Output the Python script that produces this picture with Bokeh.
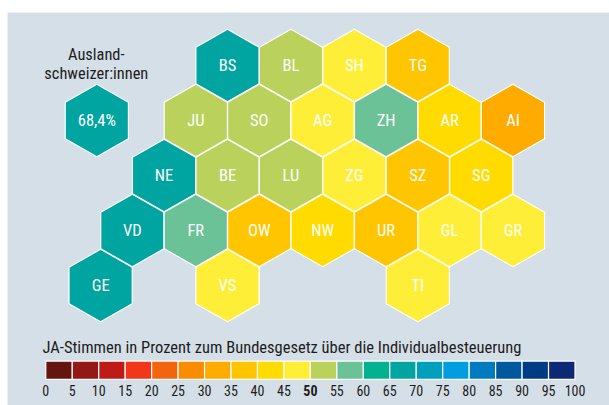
from bokeh.plotting import figure
from bokeh.models import ColumnDataSource, LinearColorMapper
from bokeh.core.properties import value
from bokeh.embed import file_html
from bokeh.resources import INLINE

# --- data -------------------------------------------------------------
cantons = ["BS","BL","SH","TG",
           "JU","SO","AG","ZH","AR","AI",
           "NE","BE","LU","ZG","SZ","SG",
           "VD","FR","OW","NW","UR","GL","GR",
           "GE","VS","TI"]
grid_q = [0,2,4,6,
          -1,1,3,5,7,9,
          -2,0,2,4,6,8,
          -3,-1,1,3,5,7,9,
          -4,0,6]
grid_r = [0,0,0,0,
          1,1,1,1,1,1,
          2,2,2,2,2,2,
          3,3,3,3,3,3,3,
          4,4,4]
ja_percent = [66,53,47,39,
              53,52,47,57,43,33,
              66,53,51,47,38,42,
              67,56,38,42,37,46,47,
              67,46,47]
abroad_label = "68,4%"
abroad_value = 68.4
abroad_q = -4.12
abroad_r = 1
abroad_title = ["Ausland-", "schweizer:innen"]

scale_ticks = [0,5,10,15,20,25,30,35,40,45,50,55,60,65,70,75,80,85,90,95,100]
palette = ["#64150f","#931a14","#bf1b16","#f1361a","#f3640f","#fa8c00","#ffab00",
           "#ffc600","#ffdb00","#ffee38","#bad25c","#6bc296","#00b290","#00a4a0",
           "#00a0bd","#009ee0","#007bc0","#00599c","#003c83","#0c2876"]
legend_title = "JA-Stimmen in Prozent zum Bundesgesetz über die Individualbesteuerung"

# --- geometry (page pixels) -------------------------------------------
FONT = "Roboto Condensed"
INK = "#1d1d1b"
X0, Y0 = 227.0, 65.0     # centre of hex at q=0, r=0
DX, DY = 31.72, 55.0     # half column step, row step
RX, RY, RS = 31.6, 36.3, 18.2
LX0, LX1 = 45.3, 574.5   # legend 0..100
LY0, LY1 = 360.6, 378.9

def px(q): return X0 + q * DX
def py(r): return Y0 + r * DY
def hexagon(q, r):
    x, y = px(q), py(r)
    return ([x, x+RX, x+RX, x, x-RX, x-RX], [y-RY, y-RS, y+RS, y+RY, y+RS, y-RS])
def lx(v): return LX0 + (LX1 - LX0) * v / 100

W, H = 609, 405
p = figure(width=W, height=H, x_range=(0, W), y_range=(H, 0),
           output_backend="svg", toolbar_location=None, min_border=0,
           background_fill_color="white", border_fill_color="white", outline_line_color=None)
p.axis.visible = False
p.grid.visible = False

# panel
p.quad(left=[7], right=[W], top=[12], bottom=[H], fill_color="#d5dfe8", line_color=None)

mapper = LinearColorMapper(palette=palette, low=0, high=100)

# hexes
shapes = [hexagon(q, r) for q, r in zip(grid_q, grid_r)]
src = ColumnDataSource(dict(xs=[s[0] for s in shapes], ys=[s[1] for s in shapes],
                            v=ja_percent, name=cantons,
                            x=[px(q) for q in grid_q], y=[py(r) for r in grid_r]))
p.patches("xs", "ys", source=src, fill_color={"field": "v", "transform": mapper},
          line_color="white", line_width=1.2)
p.text("x", "y", text="name", source=src, text_color="white", text_font=value(FONT),
       text_font_size="16.5px", text_align="center", text_baseline="middle")

# abroad hex
ax, ay = hexagon(abroad_q, abroad_r)
p.patches([ax], [ay], fill_color=palette[int(abroad_value // 5)], line_color="white", line_width=1.2)
p.text([px(abroad_q)], [py(abroad_r)], text=[abroad_label], text_color="white",
       text_font=value(FONT), text_font_size="16.5px", text_align="center", text_baseline="middle")
p.text([px(abroad_q) - 0.5]*2, [53.5, 72.5], text=abroad_title, text_color=INK,
       text_font=value(FONT), text_font_size="16.4px", text_align="center", text_baseline="middle")

# legend
p.quad(left=[lx(v) for v in scale_ticks[:-1]], right=[lx(v) for v in scale_ticks[1:]],
       top=[LY0]*20, bottom=[LY1]*20, fill_color=palette, line_color="white", line_width=1.2)
p.text([42], [346.5], text=[legend_title], text_color=INK, text_font=value(FONT),
       text_font_size="16.5px", text_align="left", text_baseline="middle")
normal = [t for t in scale_ticks if t != 50]
p.text([lx(t) for t in normal], [390]*len(normal), text=[str(t) for t in normal],
       text_color=INK, text_font=value(FONT), text_font_size="14px",
       text_align="center", text_baseline="middle")
p.text([lx(50)], [390], text=["50"], text_color=INK, text_font=value(FONT),
       text_font_size="14px", text_font_style="bold", text_align="center", text_baseline="middle")

open("out.html", "w").write(file_html(p, INLINE))
